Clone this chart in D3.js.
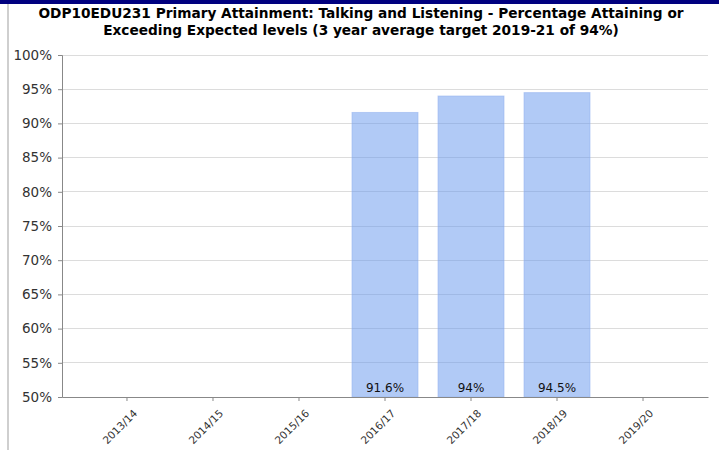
<!DOCTYPE html>
<html>
<head>
<meta charset="utf-8">
<script src="https://cdn.jsdelivr.net/npm/d3@7"></script>
<style>
  html, body { margin: 0; padding: 0; background: #fff; }
  svg { display: block; }
</style>
</head>
<body>
<svg id="chart" width="719" height="450"></svg>
<script>
const titleLines = [
  "ODP10EDU231 Primary Attainment: Talking and Listening - Percentage Attaining or",
  "Exceeding Expected levels (3 year average target 2019-21 of 94%)"
];
const categories = ["2013/14", "2014/15", "2015/16", "2016/17", "2017/18", "2018/19", "2019/20"];
const values = [null, null, null, 91.6, 94, 94.5, null];
const valueLabels = ["", "", "", "91.6%", "94%", "94.5%", ""];
const yTicks = [50, 55, 60, 65, 70, 75, 80, 85, 90, 95, 100];

const svg = d3.select("#chart");
const W = 719, H = 450;
const m = { left: 62, right: 11, top: 55, bottom: 53 };
const FONT = "DejaVu Sans, Verdana, sans-serif";

// frame
svg.append("rect").attr("x", 0).attr("y", 0).attr("width", W).attr("height", 4).attr("fill", "#00007f");
svg.append("rect").attr("x", 7).attr("y", 4).attr("width", 2).attr("height", H - 4).attr("fill", "#cfcfcf");

// title
const title = svg.append("g");
titleLines.forEach((t, i) => {
  title.append("text")
    .attr("x", 361).attr("y", 18 + i * 17)
    .attr("text-anchor", "middle")
    .attr("font-family", FONT)
    .attr("font-weight", "bold")
    .attr("font-size", 13.7)
    .attr("fill", "#000")
    .text(t);
});

const x = d3.scaleBand().domain(categories)
  .range([m.left, W - m.right])
  .paddingInner(0.233).paddingOuter(0.372);
const y = d3.scaleLinear().domain([50, 100]).range([H - m.bottom, m.top]);

// gridlines
svg.append("g").selectAll("line").data(yTicks.slice(1)).join("line")
  .attr("x1", m.left).attr("x2", W - m.right)
  .attr("y1", d => y(d)).attr("y2", d => y(d))
  .attr("stroke", "#dcdcdc").attr("stroke-width", 1).attr("shape-rendering", "crispEdges");

// bars
const data = categories.map((c, i) => ({ c, v: values[i], l: valueLabels[i] })).filter(d => d.v != null);
svg.append("g").selectAll("rect").data(data).join("rect")
  .attr("x", d => x(d.c)).attr("width", x.bandwidth())
  .attr("y", d => y(d.v)).attr("height", d => y(50) - y(d.v))
  .attr("fill", "rgba(100,149,237,0.5)")
  .attr("stroke", "rgba(150,180,240,0.6)").attr("stroke-width", 1);

svg.append("g").selectAll("text").data(data).join("text")
  .attr("x", d => x(d.c) + x.bandwidth() / 2)
  .attr("y", y(50) - 5)
  .attr("text-anchor", "middle")
  .attr("font-family", FONT)
  .attr("font-size", 12)
  .attr("fill", "#111")
  .text(d => d.l);

// y axis
const yAxis = d3.axisLeft(y).tickValues(yTicks).tickSize(4).tickPadding(6).tickFormat(d => d + "%");
const ya = svg.append("g").attr("transform", `translate(${m.left},0)`).call(yAxis);
ya.select(".domain").attr("stroke", "#888");
ya.selectAll(".tick line").attr("stroke", "#888");
ya.selectAll(".tick text").attr("font-family", FONT).attr("font-size", 13.5).attr("fill", "#333");

// x axis
const xAxis = d3.axisBottom(x).tickSize(4).tickSizeOuter(0);
const xa = svg.append("g").attr("transform", `translate(0,${H - m.bottom})`).call(xAxis);
xa.select(".domain").attr("stroke", "#888");
xa.selectAll(".tick line").attr("stroke", "#888");
xa.selectAll(".tick text")
  .attr("font-family", FONT).attr("font-size", 10.5).attr("fill", "#333")
  .attr("text-anchor", "end")
  .attr("dy", null).attr("y", null)
  .attr("transform", "translate(11,17) rotate(-45)");
</script>
</body>
</html>
